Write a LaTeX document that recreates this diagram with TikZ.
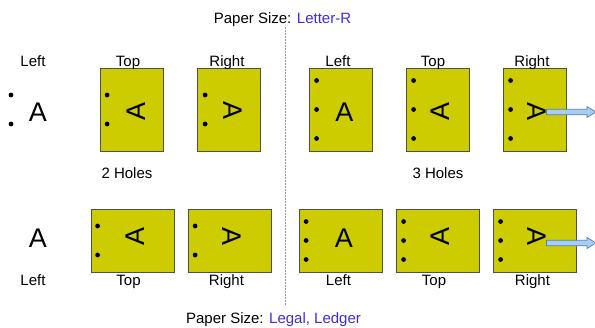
\documentclass[tikz,border=0pt]{standalone}
\usepackage{fontspec}
\setmainfont{Liberation Sans}
\usetikzlibrary{calc}
\definecolor{paperfill}{HTML}{CCCC00}
\definecolor{paperline}{HTML}{505050}
\definecolor{sizeblue}{HTML}{3F2BE8}
\definecolor{arrowfill}{HTML}{A9CDF0}
\definecolor{arrowline}{HTML}{4F81BD}

\tikzset{
  paper/.style={draw=paperline, fill=paperfill, inner sep=0pt, line width=0.8pt},
  portrait/.style={paper, minimum width=63pt, minimum height=83pt},
  landscape/.style={paper, minimum width=83pt, minimum height=63pt},
  bigA/.style={font=\fontsize{27}{27}\selectfont, inner sep=0pt},
  poslabel/.style={font=\fontsize{15}{15}\selectfont, inner sep=0pt, anchor=base},
  hole/.style={fill=black},
  blockarrow/.style={draw=arrowline, fill=arrowfill, line width=0.7pt},
}

\begin{document}
\begin{tikzpicture}[x=1pt, y=-1pt]
  \useasboundingbox (0,0) rectangle (595,327);

  % titles and the dividing line
  \node[poslabel] (lettitle) at (282.5,23.3) {Paper Size: \textcolor{sizeblue}{Letter-R}};
  \node[poslabel] (legtitle) at (273.5,323.3) {Paper Size: \textcolor{sizeblue}{Legal, Ledger}};
  \coordinate (divtop) at (285.5,27);
  \coordinate (divbot) at (285.5,305);
  \draw[gray!80, line width=0.5pt, dash pattern=on 2pt off 1pt] (divtop) -- (divbot);

  % Letter-R, 2 holes
  \node[poslabel] (let2leftL) at (33,66.5) {Left};
  \node[bigA] (let2leftA) at (38,112) {A};
  \foreach \y in {95,124} \fill[hole] (11,\y) circle (2.4pt);

  \node[portrait] (let2top) at (132,109.5) {};
  \node[poslabel] (let2topL) at (128,66.5) {Top};
  \node[bigA, rotate=90] (let2topA) at (136,111) {A};
  \foreach \dy in {-14.5,14.5} \fill[hole] ([shift={(7,\dy)}]let2top.west) circle (2.4pt);

  \node[portrait] (let2right) at (229,109.5) {};
  \node[poslabel] (let2rightL) at (227,66.5) {Right};
  \node[bigA, rotate=-90] (let2rightA) at (233,111) {A};
  \foreach \dy in {-14.5,14.5} \fill[hole] ([shift={(8,\dy)}]let2right.west) circle (2.4pt);

  \node[poslabel] (let2holes) at (127,178) {2 Holes};

  % Letter-R, 3 holes
  \node[portrait] (let3left) at (340.5,109.5) {};
  \node[poslabel] (let3leftL) at (338,66.5) {Left};
  \node[bigA] (let3leftA) at (344.5,112) {A};
  \foreach \dy in {-29,0,29} \fill[hole] ([shift={(8,\dy)}]let3left.west) circle (2.4pt);

  \node[portrait] (let3top) at (437.5,109.5) {};
  \node[poslabel] (let3topL) at (433,66.5) {Top};
  \node[bigA, rotate=90] (let3topA) at (440,111) {A};
  \foreach \dy in {-29,0,29} \fill[hole] ([shift={(8,\dy)}]let3top.west) circle (2.4pt);

  \node[portrait] (let3right) at (534.5,109.5) {};
  \node[poslabel] (let3rightL) at (532,66.5) {Right};
  \node[bigA, rotate=-90] (let3rightA) at (537,111.5) {A};
  \foreach \dy in {-29,0,29} \fill[hole] ([shift={(8,\dy)}]let3right.west) circle (2.4pt);

  \node[poslabel] (let3holes) at (438,178) {3 Holes};

  % Legal / Ledger, 2 holes
  \node[bigA] (leg2leftA) at (38,238) {A};
  \node[poslabel] (leg2leftL) at (33,285.5) {Left};

  \node[landscape] (leg2top) at (132.5,240.5) {};
  \node[poslabel] (leg2topL) at (128.5,285.5) {Top};
  \node[bigA, rotate=90] (leg2topA) at (135,236.5) {A};
  \foreach \dy in {-14.5,14.5} \fill[hole] ([shift={(7,\dy)}]leg2top.west) circle (2.4pt);

  \node[landscape] (leg2right) at (229.5,240.5) {};
  \node[poslabel] (leg2rightL) at (226.5,285.5) {Right};
  \node[bigA, rotate=-90] (leg2rightA) at (232,236.5) {A};
  \foreach \dy in {-14.5,14.5} \fill[hole] ([shift={(7.5,\dy)}]leg2right.west) circle (2.4pt);

  % Legal / Ledger, 3 holes
  \node[landscape] (leg3left) at (340.5,240.5) {};
  \node[poslabel] (leg3leftL) at (338.5,285.5) {Left};
  \node[bigA] (leg3leftA) at (344,238) {A};
  \foreach \dy in {-19,0,19} \fill[hole] ([shift={(7.5,\dy)}]leg3left.west) circle (2.4pt);

  \node[landscape] (leg3top) at (438,240.5) {};
  \node[poslabel] (leg3topL) at (434,285.5) {Top};
  \node[bigA, rotate=90] (leg3topA) at (440,236.5) {A};
  \foreach \dy in {-19,0,19} \fill[hole] ([shift={(7.5,\dy)}]leg3top.west) circle (2.4pt);

  \node[landscape] (leg3right) at (535,240.5) {};
  \node[poslabel] (leg3rightL) at (532.5,285.5) {Right};
  \node[bigA, rotate=-90] (leg3rightA) at (537,236.5) {A};
  \foreach \dy in {-19,0,19} \fill[hole] ([shift={(7.5,\dy)}]leg3right.west) circle (2.4pt);

  % block arrows leaving the page on the right
  \coordinate (let3end) at (596,112);
  \coordinate (leg3end) at (596,243);
  \foreach \a/\e in {let3rightA/let3end, leg3rightA/leg3end}
    \draw[blockarrow] let \p1=(\a.north), \p2=(\e) in
      (\x1,\y2+2.75pt) -- (\x2-9pt,\y2+2.75pt) -- (\x2-9pt,\y2+5.5pt) -- (\x2,\y2)
      -- (\x2-9pt,\y2-5.5pt) -- (\x2-9pt,\y2-2.75pt) -- (\x1,\y2-2.75pt) -- cycle;
\end{tikzpicture}
\end{document}
